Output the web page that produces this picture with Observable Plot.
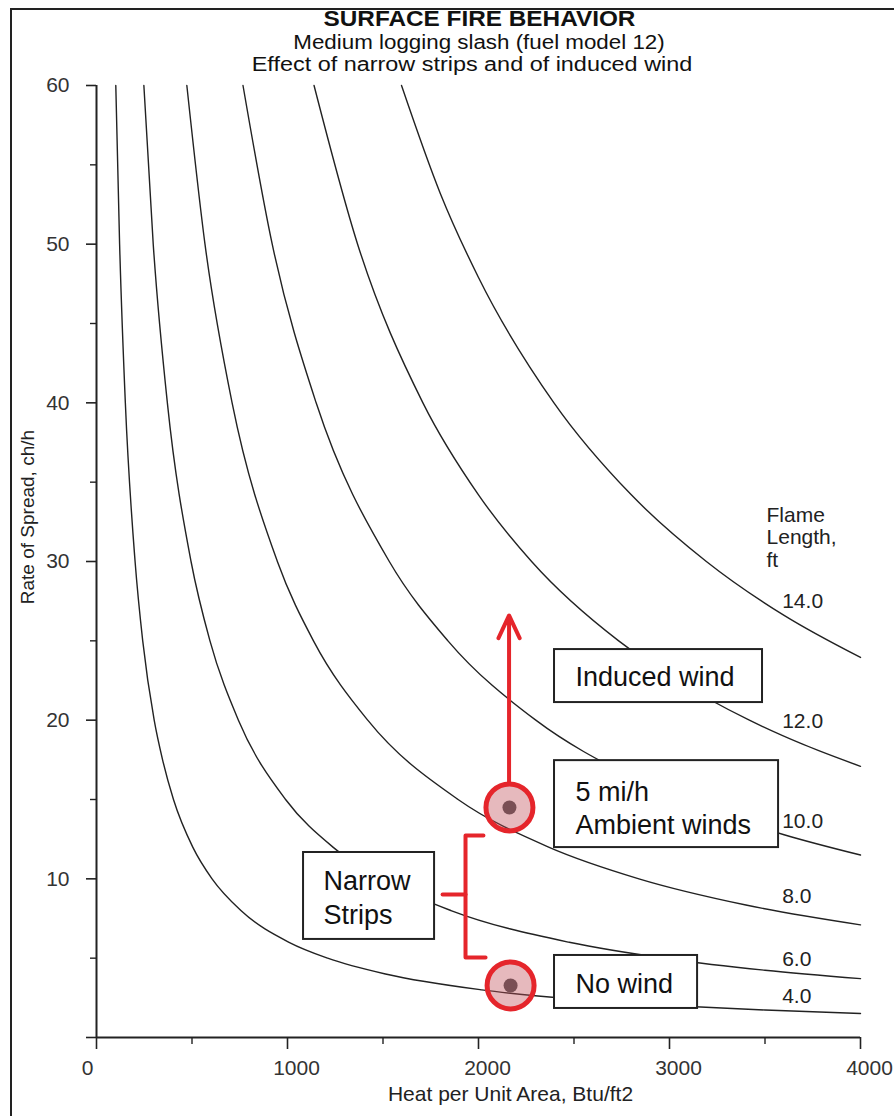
<!DOCTYPE html>
<html><head><meta charset="utf-8">
<script src="https://cdn.jsdelivr.net/npm/d3@7"></script>
<script src="https://cdn.jsdelivr.net/npm/@observablehq/plot@0.6"></script>
<style>
html,body{margin:0;padding:0;background:#fff;}
#page{position:relative;width:894px;height:1116px;overflow:hidden;background:#fff;font-family:"Liberation Sans",Arial,sans-serif;color:#111;}
#border{position:absolute;left:10px;top:8px;width:1000px;height:1200px;border-left:2px solid #222;border-top:2px solid #222;pointer-events:none;}
#titles{position:relative;height:80px;}
.t{position:absolute;left:0;white-space:nowrap;text-align:center;line-height:1.117;transform-origin:center center;}
#t1{top:7.1px;width:959px;font-size:22px;font-weight:bold;transform:scaleX(1.106);}
#t2{top:31.85px;width:958px;font-size:19.5px;transform:scaleX(1.146);}
#t3{top:53.85px;width:944px;font-size:19.5px;transform:scaleX(1.2);}
</style>
</head>
<body>
<div id="page">
  <div id="border"></div>
  <div id="titles">
    <div class="t" id="t1">SURFACE FIRE BEHAVIOR</div>
    <div class="t" id="t2">Medium logging slash (fuel model 12)</div>
    <div class="t" id="t3">Effect of narrow strips and of induced wind</div>
  </div>
  <div id="chart"></div>
</div>
<script>
// ---- Flame length curves (heat per unit area vs rate of spread) ----
const flameLengths = [4, 6, 8, 10, 12, 14];
const fl4X  = [101,121,151,202,242,302,346,403,504,605,756,1008,1210,1513,2017,2500,3025,3500,4000];
const fl4Y  = [60,50,40,30,25,20,17.5,15,12,10,8,6,5,4,3,2.42,2,1.73,1.51];
const fl6X  = [248,297,371,495,594,743,990,1238,1485,1856,2475,3000,3500,4000];
const fl6Y  = [60,50,40,30,25,20,15,12,10,8,6,4.95,4.24,3.71];
const fl8X  = [473,568,710,947,1136,1420,1893,2367,2840,3400,4000];
const fl8Y  = [60,50,40,30,25,20,15,12,10,8.35,7.1];
const fl10X = [767,920,1150,1533,1840,2300,2800,3300,3600,4000];
const fl10Y = [60,50,40,30,25,20,16.43,13.94,12.78,11.5];
const fl12X = [1139,1367,1709,2000,2278,2734,3000,3418,3700,4000];
const fl12Y = [60,50,40,34.2,30,25,22.8,20,18.47,17.09];
const fl14X = [1597,1800,2000,2395,2800,3193,3600,4000];
const fl14Y = [60,53.2,47.9,40,34.2,30,26.6,23.95];

// curve labels
const flameLabelText = ["4.0", "6.0", "8.0", "10.0", "12.0", "14.0"];
const flameLabelY = [2.61, 4.94, 8.88, 13.64, 19.94, 27.5];
const flameLabelX = 3590;
const flameTitle = "Flame\nLength,\nft";
const flameTitlePos = [3508, 31.55];

// axes
const xMajor = [0, 1000, 2000, 3000, 4000];
const xMinor = [500, 1500, 2500, 3500];
const yMajor = [0, 10, 20, 30, 40, 50, 60];
const yMinor = [5, 15, 25, 35, 45, 55];
const yTickLabels = [10, 20, 30, 40, 50, 60];
const xLabel = "Heat per Unit Area, Btu/ft2";
const yLabel = "Rate of Spread, ch/h";
const yLabelAt = 32.8;

// annotations
const boxLabels = ["Induced wind", "5 mi/h\nAmbient winds", "Narrow\nStrips", "No wind"];
const boxX1 = [2398, 2398, 1084, 2398];
const boxX2 = [3487, 3571, 1770, 3147];
const boxY1 = [21.11, 11.97, 6.18, 1.83];
const boxY2 = [24.45, 17.45, 11.66, 5.17];
const boxTextX = [2508, 2508, 1188, 2508];
const boxTextY = [22.72, 14.55, 8.92, 3.38];
const boxLineHeight = [1, 1.22, 1.26, 1];

const pointLabels = ["5 mi/h ambient", "No wind"];
const pointX = [2162, 2168];
const pointY = [14.5, 3.28];

const arrowX = 2160;
const arrowFromY = 16.07;
const arrowToY = 26.6;

const bracketX = [2026, 1932, 1932, 2037];
const bracketY = [12.73, 12.73, 5.04, 5.04];
const bracketNubX = [1812, 1932];
const bracketNubY = [9.01, 9.01];

// ---- build tables ----
const curveXs = [fl4X, fl6X, fl8X, fl10X, fl12X, fl14X];
const curveYs = [fl4Y, fl6Y, fl8Y, fl10Y, fl12Y, fl14Y];
const curveData = flameLengths.flatMap((fl, i) => curveXs[i].map((x, j) => ({fl, x, y: curveYs[i][j]})));
const flameLabels = flameLabelText.map((t, i) => ({t, x: flameLabelX, y: flameLabelY[i]}));
const boxes = boxLabels.map((label, i) => ({label, x1: boxX1[i], x2: boxX2[i], y1: boxY1[i], y2: boxY2[i], tx: boxTextX[i], ty: boxTextY[i], lh: boxLineHeight[i]}));
const points = pointLabels.map((name, i) => ({name, x: pointX[i], y: pointY[i]}));
const bracket = bracketX.map((x, i) => ({x, y: bracketY[i]}));
const bracketNub = bracketNubX.map((x, i) => ({x, y: bracketNubY[i]}));

const RED = "#e5252b";
const INK = "#222";
const FONT = "'Liberation Sans', Arial, sans-serif";

const chart = Plot.plot({
  width: 894,
  height: 1036,
  marginTop: 5,
  marginLeft: 96,
  marginRight: 34,
  marginBottom: 79,
  style: {fontFamily: FONT, fontSize: "21px", background: "transparent", overflow: "visible", color: "#111"},
  x: {domain: [0, 4000], nice: false},
  y: {domain: [0, 60], nice: false},
  marks: [
    Plot.line(curveData, {x: "x", y: "y", z: "fl", stroke: "#222", strokeWidth: 1.4, curve: "monotone-x"}),
    // axis lines
    Plot.ruleX([0], {stroke: INK, strokeWidth: 2}),
    Plot.ruleY([0], {stroke: INK, strokeWidth: 2}),
    // ticks
    Plot.axisY({ticks: yMajor, tickSize: 10, tickFormat: () => "", label: null, stroke: INK, strokeWidth: 1.6}),
    Plot.axisY({ticks: yMinor, tickSize: 6, tickFormat: () => "", label: null, stroke: INK, strokeWidth: 1.4}),
    Plot.axisX({ticks: xMajor, tickSize: 12, tickFormat: () => "", label: null, stroke: INK, strokeWidth: 1.6}),
    Plot.axisX({ticks: xMinor, tickSize: 7, tickFormat: () => "", label: null, stroke: INK, strokeWidth: 1.4}),
    // tick labels
    Plot.text(yTickLabels, {y: d => d, text: d => String(d), frameAnchor: "left", textAnchor: "end", dx: -27, fontSize: 21, fill: "#333"}),
    Plot.text(xMajor.filter(d => d > 0), {x: d => d, text: d => String(d), frameAnchor: "bottom", lineAnchor: "top", dy: 23, dx: 9, fontSize: 21, fill: "#333"}),
    Plot.text([0], {x: d => d, text: d => String(d), frameAnchor: "bottom", lineAnchor: "top", dy: 23, dx: -9, fontSize: 21, fill: "#333"}),
    // axis labels
    Plot.text([xLabel], {text: d => d, frameAnchor: "bottom", dy: 63, dx: 32, fontSize: 21, fill: "#222"}),
    Plot.text([yLabel], {text: d => d, y: () => yLabelAt, frameAnchor: "left", textAnchor: "middle", rotate: -90, dx: -69, fontSize: 19, fill: "#222"}),
    // flame length labels
    Plot.text(flameLabels, {x: "x", y: "y", text: "t", textAnchor: "start", fontSize: 21, fill: "#222"}),
    Plot.text([flameTitle], {x: () => flameTitlePos[0], y: () => flameTitlePos[1], text: d => d, textAnchor: "start", lineHeight: 1.07, fontSize: 21, fill: "#222"}),
    // red bracket
    Plot.line(bracket, {x: "x", y: "y", stroke: RED, strokeWidth: 4, strokeLinejoin: "round", curve: "linear"}),
    Plot.line(bracketNub, {x: "x", y: "y", stroke: RED, strokeWidth: 4, strokeLinecap: "round"}),
    // arrow
    Plot.arrow([{x: arrowX, y1: arrowFromY, y2: arrowToY}], {x: "x", y1: "y1", y2: "y2", stroke: RED, strokeWidth: 4, headLength: 9.4, headAngle: 50}),
    // annotation boxes
    Plot.rect(boxes, {x1: "x1", x2: "x2", y1: "y1", y2: "y2", fill: "white", stroke: INK, strokeWidth: 2}),
    Plot.text(boxes.filter(b => b.lh === 1), {x: "tx", y: "ty", text: "label", textAnchor: "start", fontSize: 27, fill: "#111"}),
    Plot.text(boxes.filter(b => b.label.startsWith("5")), {x: "tx", y: "ty", text: "label", textAnchor: "start", fontSize: 27, lineHeight: 1.22, fill: "#111"}),
    Plot.text(boxes.filter(b => b.label.startsWith("Narrow")), {x: "tx", y: "ty", text: "label", textAnchor: "start", fontSize: 27, lineHeight: 1.26, fill: "#111"}),
    // red circles
    Plot.dot(points, {x: "x", y: "y", r: 23.5, fill: "#c0505a", fillOpacity: 0.4, stroke: RED, strokeWidth: 5}),
    Plot.dot(points, {x: "x", y: "y", r: 7, fill: "#7a4f55"})
  ]
});
document.getElementById("chart").appendChild(chart);
</script>
</body></html>
